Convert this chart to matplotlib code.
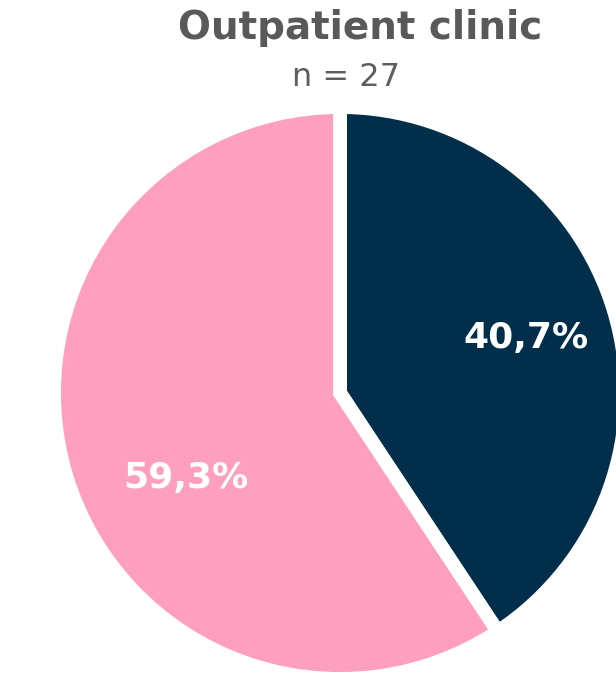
import matplotlib
matplotlib.use('Agg')
import matplotlib.pyplot as plt

plt.rcParams['font.family'] = ['DejaVu Sans']

# Data
labels = ['Yes', 'No']
shares = [40.7, 59.3]
share_text = ['40,7%', '59,3%']
colors = ['#012E4B', '#FF9FC0']
title = 'Outpatient clinic'
subtitle = 'n = 27'

W, H = 616, 675
fig = plt.figure(figsize=(W / 100, H / 100), dpi=100)

# pie centre and radius in pixels
cx, cy, R = 340, 393, 286
ax = fig.add_axes([(cx - R) / W, (H - cy - R) / H, 2 * R / W, 2 * R / H])
wedges, _ = ax.pie(shares, colors=colors, startangle=90, counterclock=False,
                   radius=1.0,
                   wedgeprops=dict(edgecolor='white', linewidth=10))
ax.set_xlim(-1, 1)
ax.set_ylim(-1, 1)
ax.set_aspect('equal')
ax.axis('off')

# percentage labels
label_pos = [(526, 338), (186, 478)]
for txt, (px, py) in zip(share_text, label_pos):
    fig.text(px / W, 1 - py / H, txt, color='white', fontsize=26,
             fontweight='bold', ha='center', va='center')

fig.text(360 / W, 1 - 28 / H, title, color='#595959', fontsize=28,
         fontweight='bold', ha='center', va='center')
fig.text(346 / W, 1 - 77 / H, subtitle, color='#5e5e5e', fontsize=23,
         ha='center', va='center')

fig.savefig('out.png', dpi=100)
